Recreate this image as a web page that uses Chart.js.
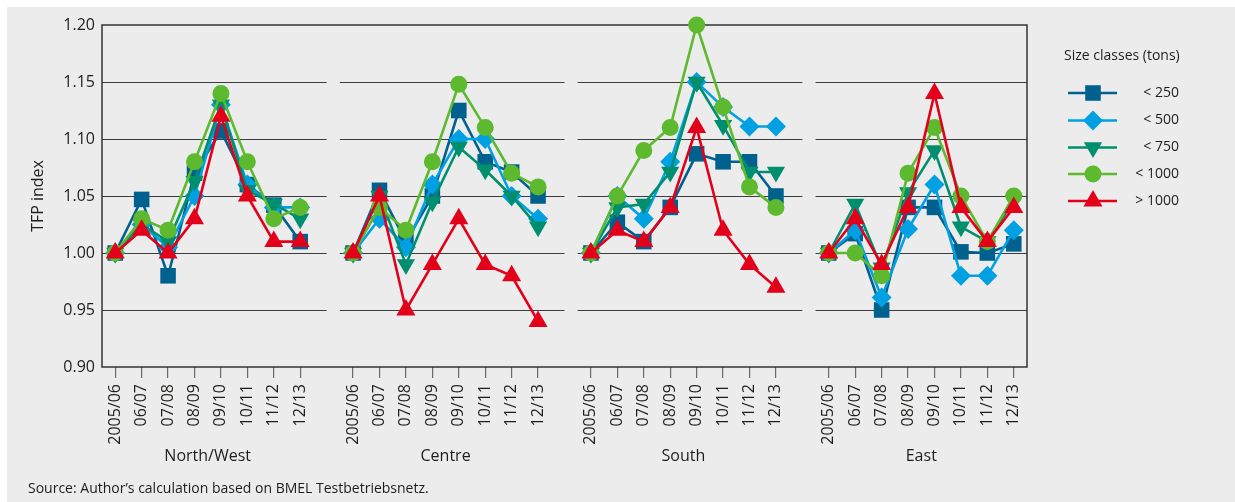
<!DOCTYPE html>
<html>
<head>
<meta charset="utf-8">
<title>TFP index by region and size class</title>
<script src="https://cdn.jsdelivr.net/npm/chart.js@4.4.1/dist/chart.umd.min.js"></script>
<style>
  html, body { margin: 0; padding: 0; background: #ffffff; }
  #wrap { position: relative; width: 1235px; height: 502px; }
  canvas { display: block; }
</style>
</head>
<body>
<div id="wrap"><canvas id="tfp" width="1235" height="502"></canvas></div>
<script>
// Periods shown for every region
const periods = ['2005/06', '06/07', '07/08', '08/09', '09/10', '10/11', '11/12', '12/13'];
const regions = ['North/West', 'Centre', 'South', 'East'];
const sizeClasses = ['< 250', '< 500', '< 750', '< 1000', '> 1000'];
const yTicks = [0.90, 0.95, 1.00, 1.05, 1.10, 1.15, 1.20];

// TFP index per size class; one row per region (North/West, Centre, South, East)
const under250 = [
  [1.00, 1.047, 0.98, 1.07, 1.107, 1.06, 1.042, 1.01],
  [1.00, 1.055, 1.01, 1.05, 1.125, 1.08, 1.071, 1.05],
  [1.00, 1.027, 1.01, 1.04, 1.087, 1.08, 1.08, 1.05],
  [1.00, 1.017, 0.95, 1.04, 1.04, 1.001, 1.00, 1.008]
];
const under500 = [
  [1.00, 1.025, 1.005, 1.05, 1.13, 1.06, 1.04, 1.04],
  [1.00, 1.03, 1.005, 1.06, 1.10, 1.10, 1.05, 1.03],
  [1.00, 1.05, 1.03, 1.08, 1.15, 1.128, 1.111, 1.111],
  [1.00, 1.02, 0.961, 1.021, 1.06, 0.98, 0.98, 1.02]
];
const under750 = [
  [1.00, 1.025, 1.01, 1.063, 1.13, 1.055, 1.043, 1.03],
  [1.00, 1.05, 0.99, 1.045, 1.093, 1.073, 1.05, 1.023],
  [1.00, 1.04, 1.043, 1.071, 1.15, 1.112, 1.071, 1.071],
  [1.00, 1.043, 0.987, 1.053, 1.09, 1.023, 1.01, 1.046]
];
const under1000 = [
  [1.00, 1.03, 1.02, 1.08, 1.14, 1.08, 1.03, 1.04],
  [1.00, 1.04, 1.02, 1.08, 1.148, 1.11, 1.07, 1.058],
  [1.00, 1.05, 1.09, 1.11, 1.20, 1.128, 1.058, 1.04],
  [1.00, 1.00, 0.98, 1.07, 1.11, 1.05, 1.01, 1.05]
];
const over1000 = [
  [1.00, 1.02, 1.00, 1.03, 1.12, 1.05, 1.01, 1.01],
  [1.00, 1.05, 0.95, 0.99, 1.03, 0.99, 0.98, 0.94],
  [1.00, 1.02, 1.01, 1.04, 1.11, 1.02, 0.99, 0.97],
  [1.00, 1.03, 0.99, 1.04, 1.14, 1.04, 1.01, 1.04]
];

const FONT = '"Open Sans", "Noto Sans", "DejaVu Sans", sans-serif';
const TEXT = '#1d1d1b';

// One category axis: the four regions side by side, an empty slot between them
const labels = [];
regions.forEach((r, i) => { if (i) labels.push(''); labels.push(...periods); });
const slotsPerRegion = periods.length + 1;

function spread(rows) {
  const out = [];
  rows.forEach((row, i) => { if (i) out.push(null); out.push(...row); });
  return out;
}

const series = [
  { rows: under250,  color: '#00608e', style: 'rect',     radius: 11,  rotation: 0 },
  { rows: under500,  color: '#00a0e3', style: 'rectRot',  radius: 10,  rotation: 0 },
  { rows: under750,  color: '#008f6e', style: 'triangle', radius: 10.5, rotation: 180 },
  { rows: under1000, color: '#5db92e', style: 'circle',   radius: 8.5, rotation: 0 },
  { rows: over1000,  color: '#e2001a', style: 'triangle', radius: 11,  rotation: 0 }
];

const datasets = series.map((s, i) => ({
  label: sizeClasses[i],
  data: spread(s.rows),
  borderColor: s.color,
  backgroundColor: s.color,
  borderWidth: 2.6,
  pointStyle: s.style,
  pointRadius: s.radius,
  pointHoverRadius: s.radius,
  pointRotation: s.rotation,
  pointBorderWidth: 0,
  pointBackgroundColor: s.color,
  spanGaps: false,
  tension: 0,
  clip: false,
  order: series.length - 1 - i
}));

// Background panel, horizontal grid segments per region and the outer frame
const panelFrame = {
  id: 'panelFrame',
  beforeDraw(chart) {
    const ctx = chart.ctx;
    ctx.save();
    ctx.fillStyle = '#ececec';
    ctx.fillRect(7, 7, chart.width - 7, chart.height - 7);
    ctx.restore();
  },
  beforeDatasetsDraw(chart) {
    const { ctx, chartArea: a, scales: { x, y } } = chart;
    const step = x.getPixelForValue(1) - x.getPixelForValue(0);
    ctx.save();
    ctx.strokeStyle = '#3c3c3c';
    ctx.lineWidth = 1.2;
    yTicks.slice(1, -1).forEach(v => {
      const py = Math.round(y.getPixelForValue(v)) + 0.5;
      regions.forEach((r, i) => {
        const first = i * slotsPerRegion;
        const left = i === 0 ? a.left : x.getPixelForValue(first) - step / 2;
        const right = i === regions.length - 1 ? a.right : x.getPixelForValue(first + periods.length);
        ctx.beginPath();
        ctx.moveTo(left, py);
        ctx.lineTo(right, py);
        ctx.stroke();
      });
    });
    ctx.strokeStyle = '#333333';
    ctx.lineWidth = 1.5;
    ctx.strokeRect(a.left, a.top, a.right - a.left, a.bottom - a.top);
    ctx.restore();
  },
  afterDraw(chart) {
    const { ctx, chartArea: a, scales: { x } } = chart;
    ctx.save();
    // Region names under the period labels
    ctx.fillStyle = TEXT;
    ctx.font = '16px ' + FONT;
    ctx.textAlign = 'center';
    ctx.textBaseline = 'middle';
    regions.forEach((r, i) => {
      const first = i * slotsPerRegion;
      const cx = (x.getPixelForValue(first) + x.getPixelForValue(first + periods.length - 1)) / 2;
      ctx.fillText(r, cx, 456);
    });

    // Legend
    const lx = a.right + 37;
    ctx.textAlign = 'left';
    ctx.font = '14px ' + FONT;
    ctx.fillText('Size classes (tons)', lx, 56.5);
    ctx.font = '14px ' + FONT;
    ctx.textAlign = 'right';
    const rowY = [93, 120.5, 147.5, 174, 201];
    chart.data.datasets.forEach((ds, i) => {
      const yy = rowY[i];
      ctx.strokeStyle = ds.borderColor;
      ctx.lineWidth = 2.6;
      ctx.beginPath();
      ctx.moveTo(lx + 4, yy);
      ctx.lineTo(lx + 53, yy);
      ctx.stroke();
      ctx.fillStyle = ds.pointBackgroundColor;
      Chart.helpers.drawPoint(ctx, {
        pointStyle: ds.pointStyle,
        radius: ds.pointRadius,
        rotation: ds.pointRotation,
        borderWidth: 0
      }, lx + 29, yy);
      ctx.fillStyle = TEXT;
      ctx.fillText(ds.label, a.right + 152, yy);
    });

    // Source note
    ctx.textAlign = 'left';
    ctx.font = '14px ' + FONT;
    ctx.fillStyle = TEXT;
    ctx.fillText('Source: Author\u2019s calculation based on BMEL Testbetriebsnetz.', 28, 489);
    ctx.restore();
  }
};

function build() {
  new Chart(document.getElementById('tfp'), {
    type: 'line',
    data: { labels, datasets },
    plugins: [panelFrame],
    options: {
      responsive: false,
      animation: false,
      devicePixelRatio: 1,
      layout: { padding: { left: 0, right: 208, top: 25, bottom: 0 } },
      plugins: { legend: { display: false }, tooltip: { enabled: false } },
      scales: {
        x: {
          type: 'category',
          offset: true,
          grid: {
            offset: false,
            drawOnChartArea: false,
            drawTicks: true,
            tickLength: 11,
            lineWidth: 1.2,
            color: c => (c.tick && c.tick.label === '') ? 'rgba(0,0,0,0)' : '#6a6a6a'
          },
          border: { display: false },
          ticks: {
            autoSkip: false,
            minRotation: 90,
            maxRotation: 90,
            padding: 6,
            color: TEXT,
            font: { family: FONT, size: 16 }
          },
          afterFit: s => { s.height = 135; }
        },
        y: {
          min: 0.90,
          max: 1.20,
          grid: { display: false, drawTicks: false },
          border: { display: false },
          afterBuildTicks: s => { s.ticks = yTicks.map(v => ({ value: v })); },
          ticks: {
            padding: 7,
            color: TEXT,
            font: { family: FONT, size: 16 },
            callback: v => Number(v).toFixed(2)
          },
          title: {
            display: true,
            text: 'TFP index',
            color: TEXT,
            font: { family: FONT, size: 16 },
            padding: { top: 29, bottom: 0 }
          },
          afterFit: s => { s.width = 102; }
        }
      }
    }
  });
}

if (document.fonts && document.fonts.load) {
  document.fonts.load('16px "Open Sans"').then(build, build);
} else {
  build();
}
</script>
</body>
</html>
